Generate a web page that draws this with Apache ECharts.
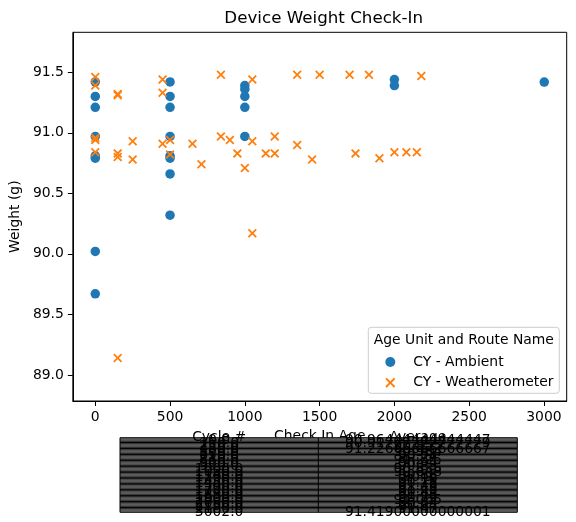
<!DOCTYPE html>
<html>
<head>
<meta charset="utf-8">
<title>Device Weight Check-In</title>
<script src="https://cdn.jsdelivr.net/npm/echarts@6/dist/echarts.min.js"></script>
<style>
    html, body { margin: 0; padding: 0; background: #fff; }
    #main { width: 576px; height: 522px; }
</style>
</head>
<body>
<div id="main"></div>
<script>
// 散点数据 (Check In Age / Weight)
let ambientAge = [0, 0, 0, 0, 0, 0, 0, 0,
    500, 500, 500, 500, 500, 500, 500, 500,
    1000, 1000, 1000, 1000, 1000,
    2000, 2000, 3002]
let ambientWeight = [91.42, 91.30, 91.21, 90.97, 90.81, 90.79, 90.02, 89.67,
    91.42, 91.30, 91.21, 90.97, 90.81, 90.79, 90.66, 90.32,
    91.39, 91.36, 91.30, 91.21, 90.97,
    91.44, 91.39, 91.419]

let weatherAge = [0, 0, 0, 0, 0,
    150, 150, 150, 150, 150,
    250, 250, 450, 450, 450, 500, 500,
    650, 710, 840, 840, 900, 950,
    1000, 1050, 1050, 1050, 1140, 1200, 1200,
    1350, 1350, 1450, 1500, 1700, 1740, 1830, 1900,
    2000, 2080, 2150, 2180]
let weatherWeight = [91.46, 91.39, 90.96, 90.94, 90.84,
    91.32, 91.31, 90.83, 90.80, 89.14,
    90.93, 90.78, 91.44, 91.33, 90.91, 90.94, 90.82,
    90.91, 90.74, 91.48, 90.97, 90.94, 90.83,
    90.71, 91.44, 90.93, 90.17, 90.83, 90.83, 90.97,
    91.48, 90.90, 90.78, 91.48, 91.48, 90.83, 91.48, 90.79,
    90.84, 90.84, 90.84, 91.47]

let xTicks = [0, 500, 1000, 1500, 2000, 2500, 3000]
let yTicks = [89.0, 89.5, 90.0, 90.5, 91.0, 91.5]

// 表格 (Cycle # / Average)
let tableCycles = [0, 150, 250, 450, 500, 650, 710, 840, 900, 950, 1000, 1050, 1140,
    1200, 1350, 1450, 1500, 1700, 1740, 1830, 1900, 2000, 2080, 2150, 2180, 3002]
let tableAverages = [90.96444444444447, 90.91777777777778, 90.855, 91.22666666666667,
    90.934, 90.91, 90.74, 91.225, 90.94, 90.83, 90.835, 90.848,
    90.83, 90.9, 91.19, 90.78, 91.48, 91.48, 90.83, 91.48, 90.79, 91.065, 90.84,
    90.84, 91.47, 91.41900000000001]

let font = 'DejaVu Sans'
let xMark = 'path://M1.4,0 L5,3.6 L8.6,0 L10,1.4 L6.4,5 L10,8.6 L8.6,10 L5,6.4 L1.4,10 L0,8.6 L3.6,5 L0,1.4 Z'

function pairs(xs, ys) {
    return xs.map(function (x, i) { return [x, ys[i]] })
}

function tableGraphic() {
    let left = 120, right = 517.3, mid = 318.3
    let top = 437.7, bottom = 512.3
    let h = bottom - top
    let items = []
    items.push({
        type: 'rect', z: 50,
        shape: { x: left, y: top, width: right - left, height: h },
        style: { fill: '#fff', stroke: '#000', lineWidth: 1 }
    })
    let lines = 62
    for (let i = 1; i < lines; i++) {
        let y = top + (h * i) / lines
        items.push({
            type: 'line', z: 51,
            shape: { x1: left, y1: y, x2: right, y2: y },
            style: { stroke: '#000', lineWidth: 1 }
        })
    }
    items.push({
        type: 'line', z: 51,
        shape: { x1: mid, y1: top, x2: mid, y2: bottom },
        style: { stroke: '#000', lineWidth: 1 }
    })
    let cl = (left + mid) / 2, cr = (mid + right) / 2
    let rows = [['Cycle #', 'Average']]
    tableCycles.forEach(function (c, i) {
        rows.push([c.toFixed(1), String(tableAverages[i])])
    })
    let step = h / (rows.length - 1)
    rows.forEach(function (r, i) {
        let y = top + i * step
        items.push({
            type: 'text', z: 52, x: cl, y: y,
            style: { text: r[0], fill: '#000', font: '13.9px "DejaVu Sans"', textAlign: 'center', textVerticalAlign: 'middle', align: 'center', verticalAlign: 'middle' }
        })
        items.push({
            type: 'text', z: 52, x: cr, y: y,
            style: { text: r[1], fill: '#000', font: '13.9px "DejaVu Sans"', textAlign: 'center', textVerticalAlign: 'middle', align: 'center', verticalAlign: 'middle' }
        })
    })
    return items
}

let legendBox = [
    {
        type: 'rect', z: 100,
        shape: { x: 368.3, y: 327.3, width: 191, height: 66, r: 3 },
        style: { fill: 'rgba(255,255,255,0.8)', stroke: '#cccccc', lineWidth: 1 }
    },
    {
        type: 'text', z: 101, x: 463.8, y: 340,
        style: { text: 'Age Unit and Route Name', fill: '#000', font: '13.9px "DejaVu Sans"', textAlign: 'center', textVerticalAlign: 'middle', align: 'center', verticalAlign: 'middle' }
    }
]

var chartDom = document.getElementById('main')
var myChart = echarts.init(chartDom)
var option = {
    animation: false,
    backgroundColor: '#fff',
    title: {
        text: 'Device Weight Check-In',
        left: 318.7,
        top: 5,
        textAlign: 'center',
        textStyle: { fontFamily: font, fontSize: 16.7, fontWeight: 'normal', color: '#000' }
    },
    grid: {
        left: 70.7, top: 32.3, width: 496, height: 368.7,
        show: true, borderColor: '#000', borderWidth: 1, backgroundColor: 'transparent'
    },
    legend: {
        z: 200,
        orient: 'vertical',
        left: 380.3,
        top: 350,
        itemWidth: 10,
        itemHeight: 10,
        itemGap: 6.7,
        textStyle: { fontFamily: font, fontSize: 13.9, color: '#000', lineHeight: 14, padding: [0, 0, 0, 13] },
        data: ['CY - Ambient', 'CY - Weatherometer']
    },
    xAxis: {
        type: 'value',
        min: -150.1,
        max: 3152.1,
        name: 'Check In Age',
        nameLocation: 'middle',
        nameGap: 28,
        nameTextStyle: { fontFamily: font, fontSize: 13.9, color: '#000' },
        axisLine: { show: true, onZero: false, lineStyle: { color: '#000' } },
        axisTick: { show: true, length: 5, customValues: xTicks, lineStyle: { color: '#000' } },
        axisLabel: {
            customValues: xTicks, fontFamily: font, fontSize: 13.9, color: '#000', margin: 9,
            formatter: function (v) { return String(v) }
        },
        splitLine: { show: false }
    },
    yAxis: {
        type: 'value',
        min: 88.785,
        max: 91.83,
        name: 'Weight (g)',
        nameLocation: 'middle',
        nameGap: 45,
        nameTextStyle: { fontFamily: font, fontSize: 13.9, color: '#000' },
        axisLine: { show: true, onZero: false, lineStyle: { color: '#000' } },
        axisTick: { show: true, length: 5, customValues: yTicks, lineStyle: { color: '#000' } },
        axisLabel: {
            customValues: yTicks, fontFamily: font, fontSize: 13.9, color: '#000', margin: 9,
            formatter: function (v) { return v.toFixed(1) }
        },
        splitLine: { show: false }
    },
    series: [
        {
            name: 'CY - Ambient',
            type: 'scatter',
            symbol: 'circle',
            symbolSize: 9.5,
            itemStyle: { color: '#1f77b4', opacity: 1 },
            data: pairs(ambientAge, ambientWeight)
        },
        {
            name: 'CY - Weatherometer',
            type: 'scatter',
            symbol: xMark,
            symbolSize: 9,
            itemStyle: { color: '#ff7f0e', opacity: 1 },
            data: pairs(weatherAge, weatherWeight)
        }
    ],
    graphic: legendBox.concat(tableGraphic())
}
option && myChart.setOption(option)
</script>
</body>
</html>
